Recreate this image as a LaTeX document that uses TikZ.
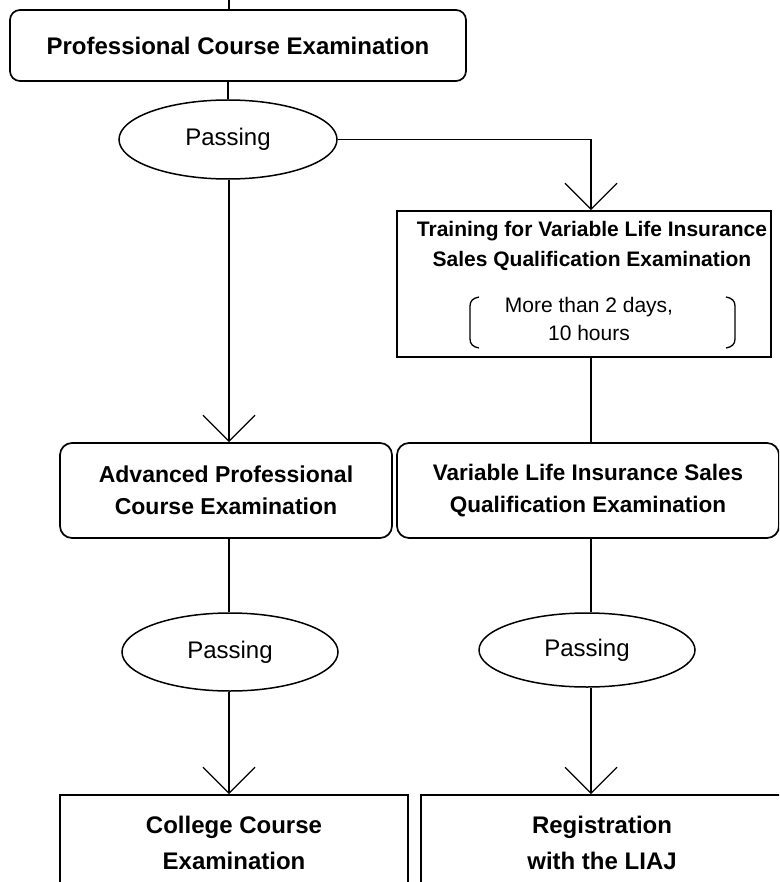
\documentclass[tikz,border=0pt]{standalone}
\usepackage{fontspec}
\setmainfont{Liberation Sans}
\usetikzlibrary{shapes.geometric,arrows.meta}
\newcommand\fsz[1]{\fontsize{#1}{#1}\selectfont}
\begin{document}
\begin{tikzpicture}[x=1pt,y=-1pt,
  conn/.style={line width=1.3pt},
  arr/.style={conn,-{Straight Barb[length=26pt,width=52pt,line width=1.3pt]}},
  rbox/.style={draw,line width=1.7pt,rounded corners=11pt,inner sep=0pt,align=center},
  pbox/.style={draw,line width=1.7pt,inner sep=0pt,align=center},
  oval/.style={draw,ellipse,line width=1.5pt,inner sep=0pt,font=\fsz{24}},
  btxt/.style={inner sep=0pt,anchor=base,font=\fsz{21}\bfseries},
  rtxt/.style={inner sep=0pt,anchor=base,font=\fsz{21}},
]
\useasboundingbox (0,0) rectangle (779,882);
\clip (0,0) rectangle (779,882);
\coordinate (lx) at (229,0);
\coordinate (rx) at (591,0);

% top row
\node[rbox,rounded corners=10pt,minimum width=456pt,minimum height=71pt,font=\fsz{24}\bfseries] (pce) at (238,45.5) {Professional Course Examination};
\node[oval,minimum width=218pt,minimum height=79pt] (e1) at (228,139.5) {Passing};

% training box
\node[pbox,minimum width=374pt,minimum height=146pt] (train) at (584,284) {};
\node[btxt] (t1) at (592,237) {Training for Variable Life Insurance};
\node[btxt] (t2) at (592,267) {Sales Qualification Examination};
\node[rtxt] (t3) at (589,312) {More than 2 days,};
\node[rtxt] (t4) at (589,340) {10 hours};
\draw[conn] (479,297) .. controls (473,298) and (470,301) .. (470,306) -- (470,339) .. controls (470,344) and (473,347) .. (479,348);
\draw[conn] (726,297) .. controls (732,298) and (735,301) .. (735,306) -- (735,339) .. controls (735,344) and (732,347) .. (726,348);

% middle row
\node[rbox,rounded corners=12pt,minimum width=332pt,minimum height=95pt,font=\fontsize{23}{32}\selectfont\bfseries] (adv) at (226,490.5) {Advanced Professional\\Course Examination};
\node[rbox,rounded corners=12pt,minimum width=382pt,minimum height=95pt,font=\fontsize{22.5}{32}\selectfont\bfseries] (vl) at (588,490.5) {Variable Life Insurance Sales\\Qualification Examination};

% lower ovals
\node[oval,minimum width=216pt,minimum height=78pt] (e2) at (230,652) {Passing};
\node[oval,minimum width=216pt,minimum height=74pt] (e3) at (587,650) {Passing};

% bottom boxes (cut off by the page edge)
\node[pbox,minimum width=348pt,minimum height=130pt] (cc) at (234,860) {};
\node[pbox,minimum width=420pt,minimum height=130pt] (reg) at (631,860) {};
\node[inner sep=0pt,align=center,font=\fontsize{24}{36}\selectfont\bfseries] (cct) at (234,843) {College Course\\Examination};
\node[inner sep=0pt,align=center,font=\fontsize{24}{36}\selectfont\bfseries] (regt) at (602,843) {Registration\\with the LIAJ};

% connectors
\draw[conn] (lx) -- (lx |- pce.north);
\draw[conn] (e1.north |- pce.south) -- (e1.north);
\draw[arr] (e1.east) -| (rx |- train.north);
\draw[arr] (lx |- e1.south) -- (lx |- adv.north);
\draw[conn] (rx |- train.south) -- (rx |- vl.north);
\draw[conn] (lx |- adv.south) -- (lx |- e2.north);
\draw[conn] (rx |- vl.south) -- (rx |- e3.north);
\draw[arr] (lx |- e2.south) -- (lx |- cc.north);
\draw[arr] (rx |- e3.south) -- (rx |- reg.north);
\end{tikzpicture}
\end{document}
